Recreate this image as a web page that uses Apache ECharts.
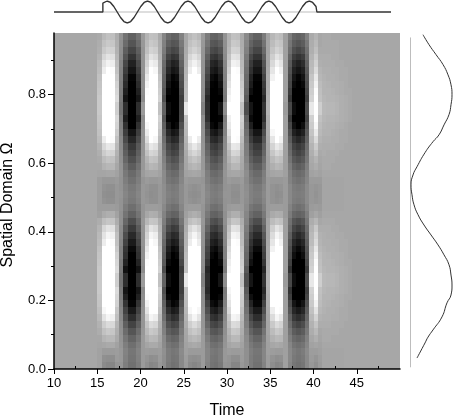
<!DOCTYPE html>
<html>
<head>
<meta charset="utf-8">
<style>
html,body{margin:0;padding:0;background:#fff}
#chart{width:454px;height:416px}
</style>
<script src="https://cdn.jsdelivr.net/npm/echarts@6/dist/echarts.min.js"></script>
</head>
<body>
<div id="chart"></div>
<script>
// left edge of every cell column / bottom edge of every cell row
const cellTimes = [15,15.5,16,16.5,17,17.5,18,18.5,19,19.5,20,20.5,21,21.5,22,22.5,23,23.5,24,24.5,25,25.5,26,26.5,27,27.5,28,28.5,29,29.5,30,30.5,31,31.5,32,32.5,33,33.5,34,34.5,35,35.5,36,36.5,37,37.5,38,38.5,39,39.5,40,40.5,41,41.5,42,42.5,43,43.5,44];
const cellSpace = [0,.02,.04,.06,.08,.1,.12,.14,.16,.18,.2,.22,.24,.26,.28,.3,.32,.34,.36,.38,.4,.42,.44,.46,.48,.5,.52,.54,.56,.58,.6,.62,.64,.66,.68,.7,.72,.74,.76,.78,.8,.82,.84,.86,.88,.9,.92,.94,.96];

// grey level, 0 black to 99 white, first row is the bottom one
const cellRows = [
[63,54,52,52,58,58,49,44,44,49,60,56,52,53,59,55,47,44,45,53,60,54,52,54,60,51,45,44,47,58,57,52,52,59,56,48,44,44,51,61,55,52,53,62,52,46,44,46,53,59,56,60,64,64,64,64,64,65,65],
[63,56,55,55,60,59,50,45,45,50,60,58,55,56,60,55,48,45,46,53,61,56,55,56,60,52,46,45,48,59,58,55,55,60,56,48,45,45,52,61,57,55,56,62,53,47,45,47,53,60,58,61,64,64,64,64,64,65,65],
[63,60,60,60,61,59,51,46,46,51,60,61,60,60,61,56,48,46,47,54,62,60,60,60,60,52,47,46,48,59,61,60,60,61,56,49,46,46,52,62,61,60,60,62,53,48,46,48,54,61,61,62,64,64,64,64,64,65,65],
[64,65,66,66,63,58,49,43,43,49,60,64,66,66,63,54,46,43,44,52,63,65,66,65,60,51,44,43,46,58,64,66,66,63,55,47,43,43,51,62,65,66,65,62,52,45,43,45,52,63,64,63,65,65,65,65,65,65,65],
[65,70,72,72,66,57,46,39,39,46,60,68,72,71,65,53,42,39,40,50,64,70,72,70,60,48,40,39,42,57,67,72,72,65,54,44,39,39,48,63,69,72,71,62,49,41,39,41,50,65,68,64,66,66,65,65,65,65,65],
[67,75,78,77,68,56,42,33,33,42,59,72,78,76,67,50,37,33,34,47,65,75,78,75,59,45,34,33,37,56,70,78,77,67,52,39,33,33,45,64,73,78,76,62,46,36,33,36,47,67,72,65,66,66,66,66,65,65,65],
[69,80,85,84,70,55,37,26,26,37,58,76,85,83,69,48,31,26,28,44,67,80,85,80,58,40,28,26,31,55,74,85,84,69,49,33,26,26,40,64,78,85,82,62,42,30,26,30,44,69,76,67,67,67,66,66,66,65,65],
[72,88,95,93,74,53,31,18,18,31,58,82,95,92,72,44,25,18,20,40,69,88,95,88,58,36,20,18,25,53,78,95,93,72,47,27,18,18,36,65,85,95,90,62,38,22,18,22,40,72,82,69,68,68,67,67,66,66,65],
[74,96,99,99,77,52,26,10,10,26,57,88,99,99,75,41,18,10,13,36,71,96,99,96,57,31,13,10,18,52,84,99,99,75,44,20,10,10,31,66,92,99,98,62,33,15,10,15,36,75,88,71,69,68,68,67,66,66,65],
[76,99,99,99,81,50,20,2,2,20,56,94,99,99,78,38,11,2,5,32,73,99,99,99,56,26,5,2,11,50,88,99,99,78,41,14,2,2,26,67,99,99,99,62,29,8,2,8,32,78,94,73,70,69,68,68,67,66,65],
[77,99,99,99,83,48,13,0,0,13,55,98,99,99,80,34,3,0,0,27,74,99,99,99,55,20,0,0,3,48,92,99,99,80,38,6,0,0,20,68,99,99,99,62,24,0,0,0,27,80,98,74,70,70,69,68,67,66,66],
[78,99,99,99,85,47,8,0,0,8,54,99,99,99,82,31,0,0,0,24,75,99,99,99,54,16,0,0,0,47,95,99,99,82,35,0,0,0,16,69,99,99,99,62,20,0,0,0,24,82,99,75,71,70,70,69,68,67,66],
[78,99,99,99,80,45,18,0,0,18,60,99,99,99,75,38,5,0,0,25,90,99,99,99,50,18,0,0,8,55,99,99,99,75,30,8,0,0,20,70,99,99,99,60,28,5,0,0,30,90,99,80,72,71,71,70,68,67,66],
[78,99,99,99,80,45,18,0,0,18,60,99,99,99,75,38,5,0,0,25,90,99,99,99,50,18,0,0,8,55,99,99,99,75,30,8,0,0,20,70,99,99,99,60,28,5,0,0,30,90,99,80,72,71,71,70,68,67,66],
[78,99,99,99,85,47,7,0,0,7,54,99,99,99,82,30,0,0,0,23,75,99,99,99,54,15,0,0,0,47,95,99,99,82,34,0,0,0,15,69,99,99,99,62,19,0,0,0,23,82,99,75,71,70,70,69,68,67,66],
[77,99,99,99,83,48,14,0,0,14,55,98,99,99,80,35,4,0,0,28,74,99,99,99,55,21,0,0,4,48,92,99,99,80,39,7,0,0,21,68,99,99,99,62,25,0,0,0,28,80,98,74,70,70,69,68,67,66,66],
[76,99,99,99,81,50,19,0,0,19,56,94,99,99,78,37,9,0,3,31,73,99,99,99,56,25,3,0,9,50,88,99,99,78,40,12,0,0,25,67,99,99,99,62,28,6,0,6,31,78,94,73,70,69,68,68,67,66,65],
[75,99,99,99,78,50,21,4,4,21,56,90,99,99,76,39,13,4,7,33,71,99,99,99,56,27,7,4,13,50,85,99,99,76,42,16,4,4,27,67,94,99,99,62,30,10,4,10,33,76,90,71,69,68,68,67,66,66,65],
[73,92,99,98,75,52,26,10,10,26,57,85,99,96,73,41,18,10,13,36,70,92,99,92,57,31,13,10,18,52,81,99,98,73,44,20,10,10,31,66,89,99,94,62,33,15,10,15,36,73,85,70,68,68,67,67,66,66,65],
[72,88,95,93,74,53,30,16,16,30,57,82,95,92,72,44,23,16,18,39,69,88,95,88,57,34,18,16,23,53,78,95,93,72,46,25,16,16,34,65,85,95,90,62,37,21,16,21,39,72,82,69,68,67,67,66,66,65,65],
[70,83,88,87,71,54,35,23,23,35,58,78,88,85,70,46,29,23,25,42,67,83,88,83,58,39,25,23,29,54,75,88,87,70,48,31,23,23,39,65,80,88,84,62,41,27,23,27,42,70,78,67,67,67,66,66,65,65,65],
[67,74,77,76,67,56,40,30,30,40,59,71,77,76,67,49,35,30,32,46,65,74,77,74,59,43,32,30,35,56,70,77,76,67,51,36,30,30,43,64,73,77,75,62,44,33,30,33,46,67,71,65,66,66,66,65,65,65,65],
[62,66,68,68,63,56,45,38,38,45,58,65,68,67,62,51,41,38,39,49,62,66,68,66,58,47,39,38,41,56,64,68,68,62,52,42,38,38,47,61,66,68,67,60,48,40,38,40,49,62,65,62,65,65,65,65,65,65,65],
[61,61,61,61,60,57,48,43,43,48,58,61,61,61,60,53,46,43,44,52,60,61,61,61,58,50,44,43,46,57,60,61,61,60,54,46,43,43,50,60,61,61,61,60,51,45,43,45,52,60,61,60,64,64,64,64,64,65,65],
[61,57,56,56,59,57,51,47,47,51,59,58,56,56,59,55,49,47,48,54,59,57,56,57,59,52,48,47,49,57,58,56,56,59,55,50,47,47,52,60,57,56,57,60,53,48,47,48,54,59,58,59,64,64,64,64,64,65,65],
[61,56,55,55,59,58,52,48,48,52,59,57,55,56,59,55,50,48,49,54,59,56,55,56,59,53,49,48,50,58,58,55,55,59,56,50,48,48,53,60,57,55,56,60,53,49,48,49,54,59,57,59,64,64,64,64,64,65,65],
[61,57,56,56,59,57,51,47,47,51,59,58,56,56,59,55,49,47,48,54,59,57,56,57,59,52,48,47,49,57,58,56,56,59,55,50,47,47,52,60,57,56,57,60,53,48,47,48,54,59,58,59,64,64,64,64,64,65,65],
[61,59,59,59,60,57,49,44,44,49,58,60,59,59,60,54,46,44,45,52,60,59,59,59,58,50,45,44,46,57,60,59,59,60,54,47,44,44,50,60,59,59,59,60,51,46,44,46,52,60,60,60,64,64,64,64,64,65,65],
[64,64,65,65,63,58,47,41,41,47,60,64,65,65,63,54,44,41,42,51,63,64,65,64,60,49,42,41,44,58,64,65,65,63,55,45,41,41,49,62,64,65,65,62,50,43,41,43,51,63,64,63,65,65,65,65,65,65,65],
[65,69,71,71,65,57,44,36,36,44,59,67,71,70,65,52,40,36,37,49,64,69,71,69,59,46,37,36,40,57,66,71,71,65,53,41,36,36,46,63,68,71,70,62,48,39,36,39,49,65,67,64,66,66,65,65,65,65,65],
[66,73,76,75,67,56,40,31,31,40,59,70,76,75,66,50,36,31,33,46,65,73,76,73,59,43,33,31,36,56,69,76,75,66,51,37,31,31,43,63,72,76,74,62,45,34,31,34,46,66,70,65,66,66,66,65,65,65,65],
[68,79,83,82,69,55,37,26,26,37,58,75,83,81,68,48,31,26,28,44,66,79,83,79,58,40,28,26,31,55,72,83,82,68,49,33,26,26,40,64,77,83,80,62,42,30,26,30,44,68,75,66,67,66,66,66,65,65,65],
[70,84,90,89,72,54,34,22,22,34,58,79,90,87,70,46,28,22,24,42,68,84,90,84,58,38,24,22,28,54,76,90,89,70,48,30,22,22,38,65,82,90,86,62,40,26,22,26,42,70,79,68,67,67,67,66,66,65,65],
[73,92,99,98,75,53,29,15,15,29,57,85,99,96,73,43,22,15,17,38,70,92,99,92,57,34,17,15,22,53,81,99,98,73,46,24,15,15,34,66,89,99,94,62,36,20,15,20,38,73,85,70,68,68,67,67,66,66,65],
[75,99,99,99,79,51,24,8,8,24,57,91,99,99,76,40,16,8,11,35,72,99,99,99,57,30,11,8,16,51,86,99,99,76,43,19,8,8,30,67,96,99,99,62,32,13,8,13,35,76,91,72,69,69,68,67,66,66,65],
[76,99,99,99,82,50,19,0,0,19,56,96,99,99,79,37,9,0,3,31,73,99,99,99,56,25,3,0,9,50,90,99,99,79,40,12,0,0,25,68,99,99,99,62,28,6,0,6,31,79,96,73,70,69,69,68,67,66,65],
[77,99,99,99,84,48,12,0,0,12,55,99,99,99,81,33,1,0,0,26,75,99,99,99,55,19,0,0,1,48,93,99,99,81,37,4,0,0,19,68,99,99,99,62,22,0,0,0,26,81,99,75,71,70,70,69,68,67,66],
[78,99,99,99,80,45,18,0,0,18,60,99,99,99,75,38,5,0,0,25,90,99,99,99,50,18,0,0,8,55,99,99,99,75,30,8,0,0,20,70,99,99,99,60,28,5,0,0,30,90,99,80,72,71,71,70,68,67,66],
[78,99,99,99,80,45,18,0,0,18,60,99,99,99,75,38,5,0,0,25,90,99,99,99,50,18,0,0,8,55,99,99,99,75,30,8,0,0,20,70,99,99,99,60,28,5,0,0,30,90,99,80,72,71,71,70,68,67,66],
[78,99,99,99,85,47,8,0,0,8,54,99,99,99,82,31,0,0,0,24,75,99,99,99,54,16,0,0,0,47,95,99,99,82,35,0,0,0,16,69,99,99,99,62,20,0,0,0,24,82,99,75,71,70,70,69,68,67,66],
[77,99,99,99,83,48,13,0,0,13,55,98,99,99,80,34,3,0,0,27,74,99,99,99,55,20,0,0,3,48,92,99,99,80,38,6,0,0,20,68,99,99,99,62,24,0,0,0,27,80,98,74,70,70,69,68,67,66,66],
[76,99,99,99,81,49,17,0,0,17,56,94,99,99,78,37,7,0,1,30,73,99,99,99,56,23,1,0,7,49,88,99,99,78,40,11,0,0,23,67,99,99,99,62,27,4,0,4,30,78,94,73,70,69,68,68,67,66,65],
[75,99,99,99,78,50,20,2,2,20,56,90,99,99,76,38,11,2,5,32,71,99,99,99,56,26,5,2,11,50,85,99,99,76,41,14,2,2,26,67,94,99,99,62,29,8,2,8,32,76,90,71,69,68,68,67,66,66,65],
[73,92,99,98,75,51,24,8,8,24,57,85,99,96,73,40,16,8,11,35,70,92,99,92,57,30,11,8,16,51,81,99,98,73,43,19,8,8,30,66,89,99,94,62,32,13,8,13,35,73,85,70,68,68,67,67,66,66,65],
[72,88,94,92,73,52,28,13,13,28,57,81,94,91,72,42,20,13,15,38,68,88,94,88,57,33,15,13,20,52,78,94,92,72,45,23,13,13,33,65,84,94,89,62,35,18,13,18,38,72,81,68,67,67,67,66,66,65,65],
[70,83,88,87,71,54,33,20,20,33,58,78,88,85,70,45,26,20,22,41,67,83,88,83,58,37,22,20,26,54,75,88,87,70,47,28,20,20,37,65,80,88,84,62,39,24,20,24,41,70,78,67,67,67,66,66,65,65,65],
[68,78,82,81,69,55,37,27,27,37,58,74,82,80,68,48,32,27,29,44,66,78,82,78,58,41,29,27,32,55,72,82,81,68,50,34,27,27,41,64,76,82,79,62,43,31,27,31,44,68,74,66,66,66,66,66,65,65,65],
[67,75,78,77,68,56,42,33,33,42,59,72,78,76,67,50,37,33,34,47,65,75,78,75,59,45,34,33,37,56,70,78,77,67,52,39,33,33,45,64,73,78,76,62,46,36,33,36,47,67,72,65,66,66,66,66,65,65,65],
[66,72,75,74,67,57,45,38,38,45,60,70,75,74,66,52,42,38,39,50,65,72,75,72,60,48,39,38,42,57,69,75,74,66,54,43,38,38,48,63,71,75,73,62,49,40,38,40,50,66,70,65,66,66,65,65,65,65,65]
];

// trace above the map
const topTimes = [10,15.8,15.8,16.3,16.7,17.1,17.5,17.9,18.3,18.7,19.1,19.5,19.9,20.3,20.7,21.1,21.5,21.9,22.3,22.7,23.1,23.5,23.9,24.3,24.7,25.1,25.5,25.9,26.3,26.7,27.1,27.5,27.9,28.3,28.7,29.1,29.5,29.9,30.3,30.7,31.1,31.5,31.9,32.3,32.7,33.1,33.5,33.9,34.3,34.7,35.1,35.5,35.9,36.3,36.7,37.1,37.5,37.9,38.3,38.7,39.1,39.5,39.9,40.3,40.7,41.1,41.2,50];
const topValues = [0,0,.8,1,.87,.5,0,-.5,-.87,-1,-.87,-.5,0,.5,.87,1,.87,.5,0,-.5,-.87,-1,-.87,-.5,0,.5,.87,1,.87,.5,0,-.5,-.87,-1,-.87,-.5,0,.5,.87,1,.87,.5,0,-.5,-.87,-1,-.87,-.5,0,.5,.87,1,.87,.5,0,-.5,-.87,-1,-.87,-.5,0,.5,.87,1,.87,.5,0,0];
const topZeroTimes = [15.8,41.2];

// trace right of the map
const sideSpace = [.975,.946,.917,.888,.858,.829,.8,.771,.742,.712,.683,.663,.631,.59,.566,.537,.508,.479,.45,.42,.391,.362,.333,.304,.274,.245,.216,.193,.152,.114,.093,.076,.032];
const sideValues = [13,19,26,33,38,41,42,41,39,34,29,23,15,7,3,1,2,4,8,14,21,28,34,39,41,42,41,37,32,23,18,15,7];
const sideZeroSpace = [.005,.967];

const timeTicks = [10,15,20,25,30,35,40,45];
const timeMinorTicks = [12.5,17.5,22.5,27.5,32.5,37.5,42.5,47.5];
const spaceTicks = [0,.2,.4,.6,.8];
const spaceMinorTicks = [.1,.3,.5,.7,.9];

const FONT = 'Liberation Sans';
const cells = [];
cellRows.forEach((row, j) => {
    row.forEach((v, i) => cells.push([cellTimes[i], cellSpace[j], v]));
});

function renderCell(params, api) {
    const a = api.coord([api.value(0), api.value(1)]);
    const b = api.coord([api.value(0) + 0.5, api.value(1) + 0.02]);
    const x = Math.round(a[0]), y = Math.round(b[1]);
    return {
        type: 'rect',
        shape: {x: x, y: y, width: Math.round(b[0]) - x, height: Math.round(a[1]) - y},
        style: {fill: api.visual('color')}
    };
}

const chart = echarts.init(document.getElementById('chart'), null, {renderer: 'canvas'});
chart.setOption({
    animation: false,
    backgroundColor: '#fff',
    textStyle: {fontFamily: FONT},
    grid: [
        {left: 54, top: 33, width: 346, height: 336, show: true, backgroundColor: '#a7a7a7', borderWidth: 0, outerBoundsMode: 'none'},
        {left: 54, top: 1, width: 337, height: 22, outerBoundsMode: 'none'},
        {left: 410, top: 33, width: 44, height: 336, outerBoundsMode: 'none'}
    ],
    visualMap: {
        show: false,
        seriesIndex: 0,
        dimension: 2,
        min: 0,
        max: 99,
        inRange: {color: ['#000000', '#ffffff']}
    },
    xAxis: [
        {
            type: 'value', gridIndex: 0, min: 10, max: 50, interval: 5, z: 10,
            name: 'Time', nameLocation: 'middle', nameGap: 34,
            nameTextStyle: {fontSize: 16, color: '#000', fontFamily: FONT},
            axisLine: {lineStyle: {color: '#000', width: 1.5}},
            axisTick: {length: 5, lineStyle: {color: '#000'}, customValues: timeTicks},
            axisLabel: {fontSize: 13, color: '#000', margin: 8, customValues: timeTicks},
            splitLine: {show: false}
        },
        {
            type: 'value', gridIndex: 0, min: 10, max: 50, z: 10,
            axisLine: {show: false},
            axisTick: {length: 3, lineStyle: {color: '#000'}, customValues: timeMinorTicks},
            axisLabel: {show: false},
            splitLine: {show: false}
        },
        {type: 'value', gridIndex: 1, min: 10, max: 50, show: false},
        {type: 'value', gridIndex: 2, min: 0, max: 44, show: false}
    ],
    yAxis: [
        {
            type: 'value', gridIndex: 0, min: 0, max: 0.98, interval: 0.2, z: 10,
            name: 'Spatial Domain \u03a9', nameLocation: 'middle', nameGap: 38,
            nameTextStyle: {fontSize: 16, color: '#000', fontFamily: FONT, padding: [0, 8, 0, 0]},
            axisLine: {show: true, lineStyle: {color: '#000', width: 1.5}},
            axisTick: {show: true, length: 6, lineStyle: {color: '#000'}, customValues: spaceTicks},
            axisLabel: {fontSize: 13, color: '#000', margin: 8, customValues: spaceTicks, formatter: v => v.toFixed(1)},
            splitLine: {show: false}
        },
        {
            type: 'value', gridIndex: 0, min: 0, max: 0.98, position: 'left', z: 10,
            axisLine: {show: false},
            axisTick: {show: true, length: 3, lineStyle: {color: '#000'}, customValues: spaceMinorTicks},
            axisLabel: {show: false},
            splitLine: {show: false}
        },
        {type: 'value', gridIndex: 1, min: -1, max: 1, show: false},
        {type: 'value', gridIndex: 2, min: 0, max: 0.98, show: false}
    ],
    series: [
        {
            type: 'custom',
            coordinateSystem: 'cartesian2d',
            xAxisIndex: 0,
            yAxisIndex: 0,
            renderItem: renderCell,
            encode: {x: 0, y: 1},
            data: cells
        },
        {
            type: 'line', xAxisIndex: 2, yAxisIndex: 2, symbol: 'none',
            lineStyle: {color: '#bdbdbd', width: 1},
            data: topZeroTimes.map(t => [t, 0])
        },
        {
            type: 'line', xAxisIndex: 2, yAxisIndex: 2, symbol: 'none',
            lineStyle: {color: '#333', width: 1.4},
            data: topTimes.map((t, i) => [t, topValues[i]])
        },
        {
            type: 'line', xAxisIndex: 3, yAxisIndex: 3, symbol: 'none',
            lineStyle: {color: '#bdbdbd', width: 1},
            data: sideZeroSpace.map(s => [0.5, s])
        },
        {
            type: 'line', xAxisIndex: 3, yAxisIndex: 3, symbol: 'none', smooth: true,
            lineStyle: {color: '#333', width: 1},
            data: sideSpace.map((s, i) => [sideValues[i], s])
        }
    ]
});
</script>
</body>
</html>
